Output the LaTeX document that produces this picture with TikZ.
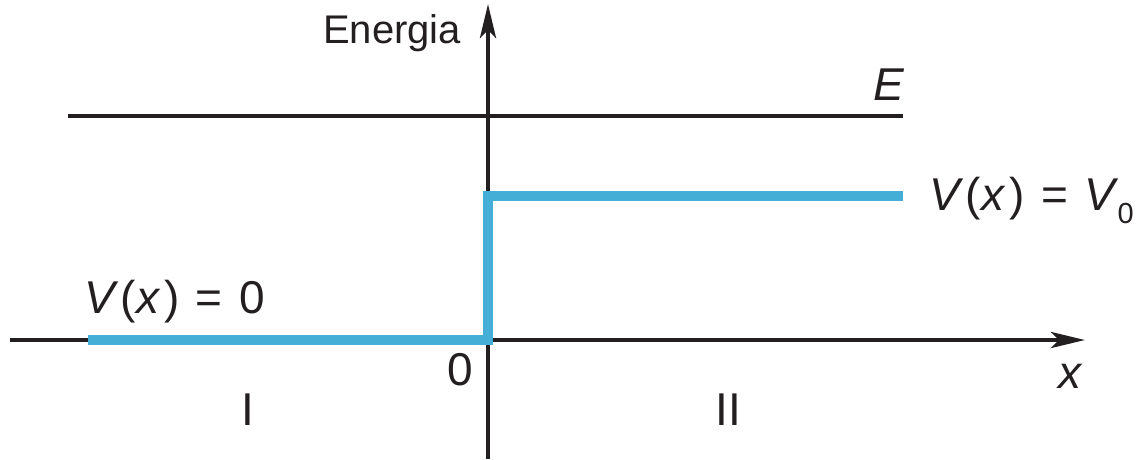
\documentclass[tikz,border=0pt]{standalone}
\usepackage{fontspec}
\setmainfont{Liberation Sans}
\usetikzlibrary{arrows.meta}
\definecolor{axiscol}{HTML}{231F20}
\definecolor{potcol}{HTML}{45AED6}
\newcommand{\vx}{\textit{V}\kern2pt(\kern1pt\textit{x}\kern3pt)}
\newcommand{\eqsp}{\hspace{0.36em}=\hspace{0.36em}}
\tikzset{
  axisline/.style={draw=axiscol, line width=4.5pt, -{Stealth[length=34pt,width=16pt,inset=8pt]}},
  eline/.style={draw=axiscol, line width=4.5pt},
  potline/.style={draw=potcol, line width=10pt, line join=miter},
  lbl/.style={text=axiscol, font=\fontsize{46}{50}\selectfont, inner sep=0pt, anchor=base},
  lblw/.style={lbl, anchor=base west},
}
\begin{document}
\begin{tikzpicture}[x=1pt,y=-1pt]
\useasboundingbox (0,0) rectangle (1141,459);
% coordinates
\coordinate (xs) at (10,340);
\coordinate (xe) at (1085,340);
\coordinate (ys) at (488,459);
\coordinate (ye) at (488,4);
\coordinate (es) at (68,116);
\coordinate (ee) at (903,116);
\coordinate (p0) at (88,340);
\coordinate (p1) at (488,340);
\coordinate (p2) at (488,196);
\coordinate (p3) at (903,196);
% axes
\draw[axisline] (xs) -- (xe);
\draw[axisline] (ys) -- (ye);
\draw[eline] (es) -- (ee);
% potential
\draw[potline] (p0) -- (p1) -- (p2) -- (p3);
% labels
\node[lblw, font=\fontsize{40}{44}\selectfont] (energia) at (323,43) {Energia};
\node[lbl] (elab) at (889,100) {\itshape E};
\node[lblw] (v0lab) at (929,210) {\vx\eqsp\textit{V}\kern-1pt\raisebox{-0.3em}{\fontsize{29}{32}\selectfont 0}};
\node[lblw] (vzlab) at (84,313) {\vx\eqsp 0};
\node[lbl] (zero) at (460,385) {0};
\node[lbl] (xlab) at (1070,388) {\itshape x};
\node[lbl] (reg1) at (248,425) {I};
\node[lbl] (reg2) at (728,425) {II};
\end{tikzpicture}
\end{document}
